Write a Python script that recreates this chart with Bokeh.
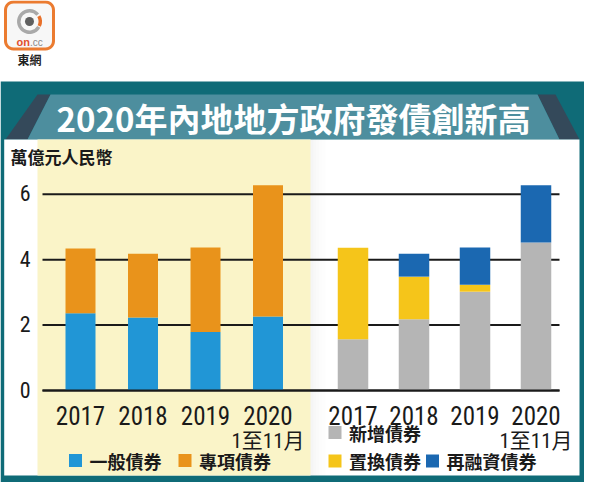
import numpy as np
from bokeh.plotting import figure
from bokeh.models import Range1d, ColumnDataSource
from bokeh.core.properties import value
from bokeh.embed import file_html
from bokeh.resources import INLINE

# ---------------- data ----------------
years = ["2017", "2018", "2019", "2020"]
year_note = "1至11月"
# left panel (萬億元人民幣)
general = [2.36, 2.23, 1.79, 2.26]      # 一般債券
special = [1.98, 1.95, 2.58, 4.01]      # 專項債券
# right panel
new_bonds = [1.57, 2.18, 3.02, 4.52]    # 新增債券
replacement = [2.79, 1.30, 0.21, 0.0]   # 置換債券
refinancing = [0.0, 0.70, 1.14, 1.75]   # 再融資債券
y_ticks = [0, 2, 4, 6]
unit_label = "萬億元人民幣"
title = "2020年內地地方政府發債創新高"
left_legend = ["一般債券", "專項債券"]
right_legend = ["新增債券", "置換債券", "再融資債券"]

# ---------------- styles ----------------
C_GENERAL = "#2196d6"
C_SPECIAL = "#e9931b"
C_NEW = "#b5b5b5"
C_REPL = "#f5c51a"
C_REFI = "#1b68b1"
TEAL = "#0f6b77"
BANNER = "#4d8e9e"
BANNER_DARK = "#34495a"
PALE = "#faf4c8"
CJK = "Noto Sans CJK TC"
NARROW = "Roboto Condensed"
MIXED = "Roboto Condensed, Noto Sans CJK TC"

W, H = 584, 482
p = figure(width=W, height=H, output_backend="svg", toolbar_location=None,
           x_range=Range1d(0, W), y_range=Range1d(H, 0),
           x_axis_location=None, y_axis_location=None, min_border=0,
           background_fill_color="white", border_fill_color="white",
           outline_line_color=None)
p.grid.visible = False

# value range: 0 at canvas y 390, 6 at canvas y 193.7
y0_px, y6_px = 390.0, 193.7
ppu = (y0_px - y6_px) / 6.0
p.extra_y_ranges = {"v": Range1d(-(H - y0_px) / ppu, y0_px / ppu)}
# category ranges for the two panels (index positions)
l0, lu = 80.0, 62.5
r0, ru = 352.5, 61.0
p.extra_x_ranges = {"cl": Range1d(-l0 / lu, (W - l0) / lu),
                    "cr": Range1d(-r0 / ru, (W - r0) / ru)}

# ---------------- background decoration ----------------
p.quad(left=0, right=W, top=81, bottom=H, fill_color=TEAL, line_color=None)
# banner
p.patch([37, 50, 27, 5], [94, 94, 139, 139], fill_color=BANNER_DARK, line_color=None)
p.patch([537, 555, 579, 559], [94, 94, 139, 139], fill_color=BANNER_DARK, line_color=None)
p.patch([50, 537, 559, 27], [94, 94, 139, 139], fill_color=BANNER, line_color=None)
# white panel
p.quad(left=3.7, right=579, top=139, bottom=475, fill_color="white", line_color=None)
# pale yellow area (left panel)
p.quad(left=37, right=310, top=139, bottom=475, fill_color=PALE, line_color=None)
for i, a in enumerate([0.07, 0.05, 0.035, 0.02, 0.01]):
    p.quad(left=310 + 3 * i, right=313 + 3 * i, top=139, bottom=475,
           fill_color="#777777", fill_alpha=a, line_color=None)

# ---------------- logo ----------------
def rounded_rect(x0, y0, x1, y1, r, n=8):
    xs, ys = [], []
    corners = [(x1 - r, y0 + r, -90, 0), (x1 - r, y1 - r, 0, 90),
               (x0 + r, y1 - r, 90, 180), (x0 + r, y0 + r, 180, 270)]
    for cx, cy, a0, a1 in corners:
        t = np.radians(np.linspace(a0, a1, n))
        xs += list(cx + r * np.cos(t))
        ys += list(cy + r * np.sin(t))
    return xs, ys

lx, ly = rounded_rect(5, 1.5, 53, 48.5, 8)
p.patch(lx, ly, fill_color="#f7f7f7", line_color="#eb7b30", line_width=3)
p.annular_wedge(x=29, y=21, inner_radius=9, outer_radius=12.5,
                start_angle=np.radians(40), end_angle=np.radians(330),
                fill_color="#a9a9a9", line_color=None)
p.annular_wedge(x=29, y=21, inner_radius=9, outer_radius=12.5,
                start_angle=np.radians(-25), end_angle=np.radians(30),
                fill_color="#e8702a", line_color=None)
p.scatter(x=[29], y=[21], size=9, marker="circle", fill_color="#5f5f5f", line_color=None)
p.text(x=[29.5], y=[41], text=["on"], text_font=value("Liberation Sans"), text_font_style="bold",
       text_font_size="11px", text_color="#e2502a", text_align="right", text_baseline="middle")
p.text(x=[29.5], y=[41.5], text=[".cc"], text_font=value("Liberation Sans"),
       text_font_size="10px", text_color="#888888", text_align="left", text_baseline="middle")
p.text(x=[29], y=[59], text=["東網"], text_font=value(CJK), text_font_style="bold",
       text_font_size="12px", text_color="#222222", text_align="center", text_baseline="middle")

# ---------------- title & unit ----------------
p.text(x=[293], y=[117], text=[title], text_font=value(CJK), text_font_style="bold",
       text_font_size="33px", text_color="white", text_align="center", text_baseline="middle")
p.text(x=[10], y=[156], text=[unit_label], text_font=value(CJK), text_font_style="bold",
       text_font_size="17px", text_color="#1a1a1a", text_align="left", text_baseline="middle")

# ---------------- grid & ticks ----------------
p.segment(x0=[42] * len(y_ticks), x1=[559] * len(y_ticks), y0=y_ticks, y1=y_ticks,
          line_color="#1a1a1a", line_width=2, y_range_name="v")
p.text(x=[30] * len(y_ticks), y=y_ticks, text=[str(t) for t in y_ticks],
       text_font=value(NARROW), text_font_size="22px", text_color="#1a1a1a",
       text_align="right", text_baseline="alphabetic", y_offset=-1, y_range_name="v")

# ---------------- bars ----------------
idx = list(range(len(years)))
src_l = ColumnDataSource(dict(x=idx, general=general, special=special))
src_r = ColumnDataSource(dict(x=idx, new=new_bonds, repl=replacement, refi=refinancing))
p.vbar_stack(["general", "special"], x="x", width=0.48, color=[C_GENERAL, C_SPECIAL],
             line_color=None, source=src_l, x_range_name="cl", y_range_name="v")
p.vbar_stack(["new", "repl", "refi"], x="x", width=0.5, color=[C_NEW, C_REPL, C_REFI],
             line_color=None, source=src_r, x_range_name="cr", y_range_name="v")
p.segment(x0=[42], x1=[559], y0=[y_ticks[0]], y1=[y_ticks[0]],
          line_color="#1a1a1a", line_width=2, y_range_name="v")

# ---------------- category labels ----------------
for rng in ["cl", "cr"]:
    p.text(x=idx, y=[415] * len(years), text=years, text_font=value(NARROW),
           text_font_size="25px", text_color="#1a1a1a", text_align="center",
           text_baseline="alphabetic", x_range_name=rng)
    p.text(x=[idx[-1]], y=[440], text=[year_note], text_font=value(MIXED),
           text_font_size="21px", text_color="#1a1a1a", text_align="center",
           text_baseline="alphabetic", x_range_name=rng)

# ---------------- legends ----------------
def legend_item(sx, sy, color, label):
    p.rect(x=[sx], y=[sy], width=13, height=13, fill_color=color, line_color=None)
    p.text(x=[sx + 14], y=[sy], text=[label], text_font=value(CJK), text_font_style="bold",
           text_font_size="18px", text_color="#1a1a1a", text_align="left", text_baseline="middle")

legend_item(75, 460, C_GENERAL, left_legend[0])
legend_item(184.5, 460, C_SPECIAL, left_legend[1])
legend_item(334.5, 432, C_NEW, right_legend[0])
legend_item(334.5, 460.5, C_REPL, right_legend[1])
legend_item(432, 460.5, C_REFI, right_legend[2])

html = file_html(p, INLINE)
html = html.replace("<body>", "<body style=\"background:%s linear-gradient(#ffffff,#ffffff) no-repeat;"
                    "background-size:100%% 89px;\">" % TEAL, 1)
open("out.html", "w").write(html)
